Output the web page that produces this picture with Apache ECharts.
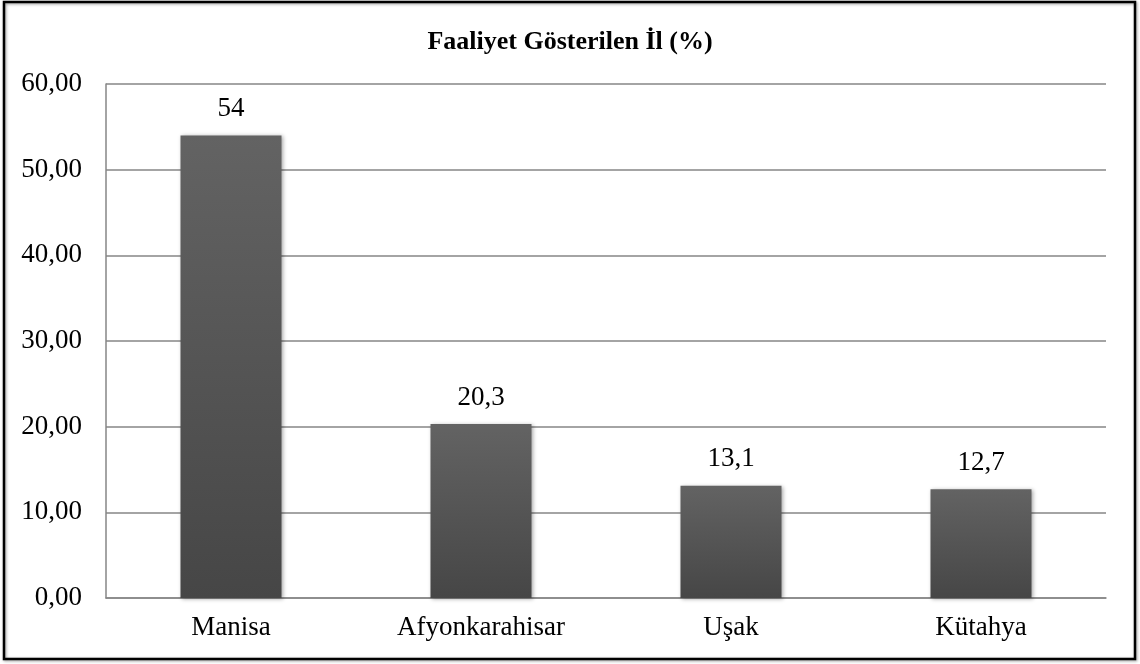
<!DOCTYPE html>
<html>
<head>
<meta charset="utf-8">
<script src="https://cdn.jsdelivr.net/npm/echarts@6/dist/echarts.min.js"></script>
<style>
  html, body { margin: 0; padding: 0; background: #fff; }
  #chart { width: 1140px; height: 664px; }
</style>
</head>
<body>
<div id="chart"></div>
<script>
const categories = ['Manisa', 'Afyonkarahisar', 'Uşak', 'Kütahya'];
const values = [54, 20.3, 13.1, 12.7];
const yTicks = [0, 10, 20, 30, 40, 50, 60];

const chart = echarts.init(document.getElementById('chart'));
const font = '"Liberation Serif", "Times New Roman", serif';

chart.setOption({
  animation: false,
  backgroundColor: '#fff',
  title: {
    text: 'Faaliyet Gösterilen İl (%)',
    left: 'center',
    top: 24,
    textStyle: { fontFamily: font, fontSize: 26, fontWeight: 'bold', color: '#000' }
  },
  graphic: [{
    type: 'rect',
    shape: { x: 4, y: 2, width: 1131, height: 657 },
    style: { fill: 'none', stroke: '#000', lineWidth: 2.5, shadowBlur: 3, shadowColor: 'rgba(0,0,0,0.4)', shadowOffsetX: 1, shadowOffsetY: 1 },
    silent: true
  }],
  grid: { left: 106, top: 84, right: 34, bottom: 66 },
  xAxis: {
    type: 'category',
    data: categories,
    axisLine: { lineStyle: { color: '#868686', width: 1.5 } },
    axisTick: { show: false },
    axisLabel: { fontFamily: font, fontSize: 27, color: '#000', margin: 16 }
  },
  yAxis: {
    type: 'value',
    min: yTicks[0],
    max: yTicks[yTicks.length - 1],
    interval: 10,
    axisLine: { show: true, lineStyle: { color: '#868686', width: 1.5 } },
    axisTick: { show: false },
    splitLine: { lineStyle: { color: '#868686', width: 1.5 } },
    axisLabel: {
      fontFamily: font, fontSize: 27, color: '#000', margin: 24,
      formatter: v => v.toFixed(2).replace('.', ',')
    }
  },
  series: [{
    type: 'bar',
    data: values,
    barWidth: 101,
    itemStyle: {
      color: new echarts.graphic.LinearGradient(0, 0, 0, 1, [
        { offset: 0, color: '#636363' },
        { offset: 1, color: '#464646' }
      ]),
      shadowBlur: 4,
      shadowColor: 'rgba(0,0,0,0.35)',
      shadowOffsetX: 1,
      shadowOffsetY: 1
    },
    label: {
      show: true,
      position: 'top',
      distance: 13,
      fontFamily: font,
      fontSize: 27,
      color: '#000',
      formatter: p => String(p.value).replace('.', ',')
    }
  }]
});
</script>
</body>
</html>
